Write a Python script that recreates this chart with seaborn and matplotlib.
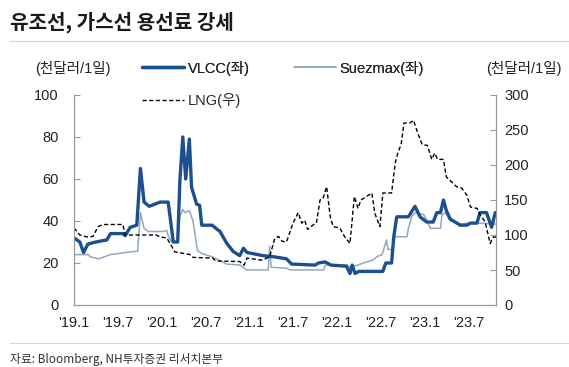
import matplotlib
matplotlib.use('Agg')
import matplotlib.pyplot as plt
import seaborn as sns
from matplotlib.lines import Line2D

# months since Jan 2019 and values
vlcc_t = [0, 0.8, 1.3, 1.9, 3, 4.5, 5, 6.7, 7, 7.7, 8.6, 9.1, 9.6, 10.3, 11.8, 12.9, 13.6, 14.2,
          14.5, 14.9, 15.3, 15.8, 16.1, 16.8, 17.2, 17.5, 18.9, 20, 20.9, 21.8, 22.7, 23.2, 23.7, 25.9,
          27.3, 29.1, 29.8, 33, 33.5, 34.4, 35.2, 37.3, 37.8, 38.1, 38.5, 39, 42.3, 42.7, 43.5, 43.8, 44.2,
          45.8, 46.7, 47.4, 48.3, 49.2, 49.7, 50.2, 50.6, 51, 51.5, 52.9, 53.8, 54.3, 55.2, 55.6,
          56.5, 57.2, 57.7]
vlcc_v = [32, 30, 25, 29, 30, 31, 34, 34, 33, 37, 38, 65, 49, 47, 49, 49, 30, 30,
          59, 80, 60, 79, 56, 48, 47.5, 38, 38, 35, 29.5, 25.5, 23.5, 27, 25, 23.5,
          23, 22, 19.5, 19, 20, 20.5, 19, 18.5, 15, 19, 15, 16, 16, 20, 20, 32.5, 42,
          42, 47, 42, 39.5, 39.5, 44, 44, 50, 45, 41, 38, 38, 39, 39, 44,
          44, 37, 44]

suez_t = [0, 2, 2.2, 3.4, 5, 8.2, 8.7, 9.1, 9.6, 10.2, 12.2, 12.7, 12.9, 13.4, 14.2, 14.5, 14.9,
          15.2, 15.8, 16.3, 16.9, 17.5, 18.9, 20.9, 22.8, 23.6, 26.6, 26.8, 27, 29.1, 29.6,
          34.2, 34.4, 37.4, 37.8, 38.9, 39.6, 41, 41.5, 42.2, 42.8, 43, 43.6, 43.8, 45.6, 45.8, 46.3, 46.8,
          47.9, 48.3, 48.8, 50.2, 50.4, 50.9, 51.6, 53, 54, 55.6, 57.8]
suez_v = [24, 24, 23, 22, 24, 25.5, 25.5, 44, 36.5, 35, 35, 35.5, 33, 30, 30, 42, 45.5,
          44, 45, 40, 26, 24.5, 23, 19.5, 19, 16.7, 16.7, 28, 18, 17.5, 16.7,
          16.7, 19, 19, 18, 19, 20, 21.5, 23, 24, 31, 26.5, 26.5, 32.5, 32.5, 36.5, 42.5, 44,
          43, 40.5, 36.5, 36.5, 43, 44, 40, 38.5, 39, 39, 38.5]

lng_t = [0, 0.8, 1.9, 2.6, 3.3, 4, 6.7, 7, 11.3, 11.8, 12.7, 13.1, 13.8, 15.9, 16.3, 19, 19.4,
         22.7, 23.3, 23.7, 25.8, 26.8, 27.5, 28, 28.5, 29.1, 30, 30.7, 31.2, 31.6, 32, 32.7,
         33.2, 33.7, 34.1, 34.6, 35.1, 35.5, 36.4, 37.1, 37.8, 38.4, 38.9, 39.3, 40.8, 41.2,
         41.9, 42.3, 43.5, 44, 44.4, 44.8, 45.2, 46, 46.5, 47.1, 47.7, 48.4, 49, 49.4, 49.8,
         50.6, 51, 51.7, 52.4, 53.1, 53.8, 54.3, 55.2, 55.6, 56.3, 57, 57.4, 57.8]
lng_v = [110, 100, 97, 98, 112, 115, 115, 100, 100, 97, 96, 89, 76, 72, 68, 67, 63,
         62, 57, 67, 64, 69, 95, 98, 91, 90, 117, 132, 117, 121, 108, 114,
         117, 150, 152, 169, 126, 112, 110, 97, 88, 155, 138, 150, 160, 131,
         112, 160, 160, 203, 219, 229, 260, 260, 264, 245, 229, 228, 208, 217, 208,
         208, 183, 176, 169, 167, 157, 140, 138, 129, 119, 88, 97, 97]

tick_pos = [0, 6, 12, 18, 24, 30, 36, 42, 48, 54]
tick_labels = ["'19.1", "'19.7", "'20.1", "'20.7", "'21.1", "'21.7", "'22.1", "'22.7", "'23.1", "'23.7"]

sns.set_style('white')
plt.rcParams['font.family'] = ['Liberation Sans', 'Noto Sans CJK KR']

vlcc_color = '#1c4f8e'
suez_color = '#93a8be'
spine_color = '#9a9a9a'

fig = plt.figure(figsize=(5.69, 3.67), dpi=100)
ax = fig.add_axes([74 / 569, 1 - 305 / 367, (496 - 74) / 569, 210 / 367])
ax2 = ax.twinx()

sns.lineplot(x=suez_t, y=suez_v, ax=ax, color=suez_color, linewidth=1.1, sort=False, estimator=None)
sns.lineplot(x=vlcc_t, y=vlcc_v, ax=ax, color=vlcc_color, linewidth=2.4, sort=False, estimator=None)
sns.lineplot(x=lng_t, y=lng_v, ax=ax2, color='black', linewidth=1.0, sort=False, estimator=None,
             linestyle=(0, (3, 1.8)))

ax.set_xlim(0, 57.8)
ax.set_ylim(0, 100)
ax2.set_ylim(0, 300)
ax.set_yticks([0, 20, 40, 60, 80, 100])
ax2.set_yticks([0, 50, 100, 150, 200, 250, 300])
ax.set_xticks(tick_pos)
ax.set_xticklabels(tick_labels)

for a in (ax, ax2):
    a.spines['top'].set_visible(False)
    for s in ('left', 'right', 'bottom'):
        a.spines[s].set_color(spine_color)
        a.spines[s].set_linewidth(0.8)
    a.tick_params(direction='in', length=4, width=0.8, color=spine_color,
                  labelsize=10.5, labelcolor='#222222')
    a.set_xlabel('')
    a.set_ylabel('')
ax.tick_params(axis='y', pad=11)
ax.tick_params(axis='x', pad=8)
ax2.tick_params(axis='y', pad=6)

# legend
h_vlcc = Line2D([], [], color=vlcc_color, linewidth=2.4)
h_suez = Line2D([], [], color=suez_color, linewidth=1.1)
h_lng = Line2D([], [], color='black', linewidth=1.0, linestyle=(0, (3, 1.8)))
leg1 = fig.legend([h_vlcc, h_suez], ['VLCC(좌)', 'Suezmax(좌)'], loc='center left',
                  bbox_to_anchor=(142 / 569, 1 - 68 / 367), ncol=2, frameon=False, fontsize=10.5,
                  handlelength=2.9, handletextpad=0.25, columnspacing=3.0, borderpad=0, borderaxespad=0)
fig.legend([h_lng], ['LNG(우)'], loc='center left', bbox_to_anchor=(142 / 569, 1 - 101 / 367),
           frameon=False, fontsize=10.5, handlelength=2.9, handletextpad=0.25, borderpad=0, borderaxespad=0)
fig.add_artist(leg1)

fig.text(35 / 569, 1 - 68 / 367, '(천달러/1일)', fontsize=10.5, va='center', ha='left', color='#222222')
fig.text(562 / 569, 1 - 68 / 367, '(천달러/1일)', fontsize=10.5, va='center', ha='right', color='#222222')

# title, rules and source
fig.text(10 / 569, 1 - 22 / 367, '유조선, 가스선 용선료 강세', fontsize=14.5, fontweight='bold',
         va='center', ha='left', family=['Noto Sans CJK KR'], color='#1a1a1a')
fig.add_artist(Line2D([10 / 569, 1], [1 - 41 / 367] * 2, color='#d5d5d5', linewidth=0.8))
fig.add_artist(Line2D([10 / 569, 1], [1 - 343 / 367] * 2, color='#d5d5d5', linewidth=0.8))
fig.text(10 / 569, 1 - 359 / 367, '자료: Bloomberg, NH투자증권 리서치본부', fontsize=8.5,
         va='center', ha='left', family=['Noto Sans CJK KR'], color='#333333')

fig.savefig('out.png', dpi=100)
